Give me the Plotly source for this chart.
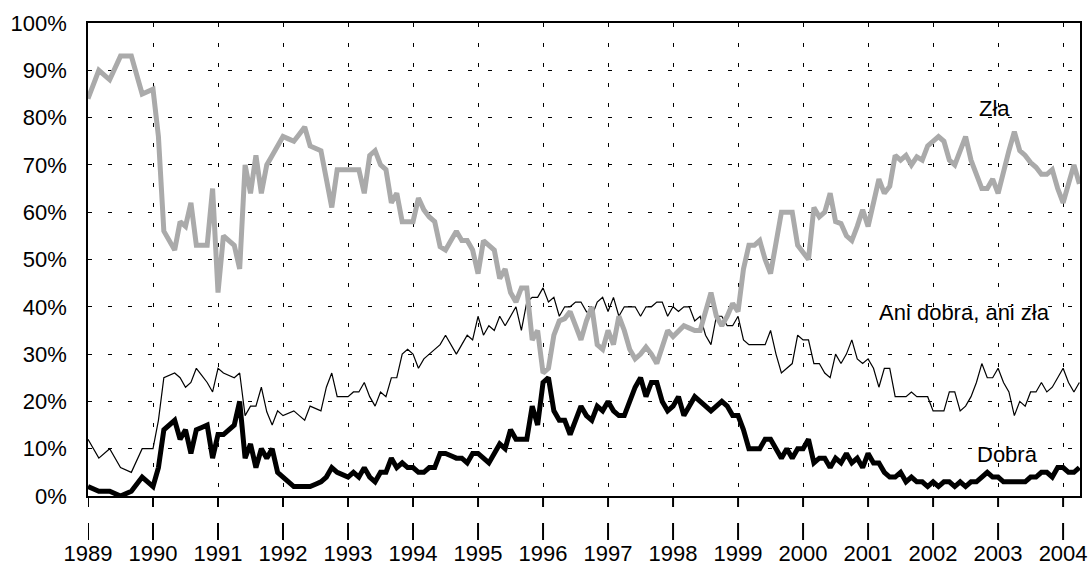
import plotly.graph_objects as go

# Sample times: 1989 bi-monthly (Jan, Mar, May, Jul, Sep, Nov), then monthly Jan 1990 - Apr 2004
months_1989 = [1, 3, 5, 7, 9, 11]
years_monthly = list(range(1990, 2004))
months_2004 = [1, 2, 3, 4]

x = [1989 + (m - 1) / 12 for m in months_1989]
for yr in years_monthly:
    x += [yr + (m - 1) / 12 for m in range(1, 13)]
x += [2004 + (m - 1) / 12 for m in months_2004]

zla = [
    84, 90, 88, 93, 93, 85,
    86, 76, 56, 54, 52, 58, 57, 62, 53, 53, 53, 65,
    43, 55, 54, 53, 48, 70, 64, 72, 64, 70, 72, 74,
    76, 75.5, 75, 76.5, 78, 74, 73.5, 73, 67, 61, 69, 69,
    69, 69, 69, 64, 72, 73, 70, 69, 62, 64, 58, 58,
    58, 63, 60.5, 59, 58, 52.7, 52, 54, 56, 54, 54, 52,
    47, 54, 53, 52, 46, 48, 43, 41, 44, 44, 33, 35,
    26, 27, 34, 37, 37.5, 39, 36, 33, 37, 40, 32, 31,
    35, 32, 38, 35, 31, 29, 30, 31.5, 30, 28, 31.5, 35,
    33.7, 35, 36, 35.5, 35, 35, 39, 43, 38, 36, 38, 40.7,
    39, 48, 53, 53, 54, 50, 47, 54, 60, 60, 60, 53,
    51.5, 50, 61, 59, 60, 64, 58, 57.6, 55, 54, 57, 60.5,
    57, 62, 67, 64, 65.5, 72, 71, 72, 70, 71.7, 71, 74,
    75, 76, 75, 71, 70, 73, 76, 71, 68, 65, 65, 67,
    64, 69, 73, 77, 73, 72, 70.5, 69.5, 68, 68, 69, 65,
    62, 66, 70, 66,
]

ani = [
    12, 8, 10, 6, 5, 10,
    10, 16, 25, 25.5, 26, 25, 23, 24, 27, 25.5, 24, 22,
    27, 26, 25.5, 25, 26, 17, 19, 19, 23, 17.8, 15, 18,
    17, 17.5, 18, 17, 16, 19, 18.5, 18, 23, 26, 21, 21,
    21, 22, 22, 24, 21, 19, 22, 21, 25, 25, 30, 31,
    30, 27, 29, 30, 31, 32, 34, 32, 30, 32, 34, 33,
    38, 34, 36, 35, 38, 36, 38, 40, 35, 41, 42, 42,
    44, 41, 42, 38, 40, 40, 41, 41, 39, 38, 41, 42,
    39, 42, 38, 40, 40, 40, 38, 40, 40, 41, 41, 38,
    40, 39, 40, 40, 37, 38, 34, 32, 38, 38, 36, 36,
    38, 33, 32, 32, 32, 32, 35, 30, 26, 27, 28, 34,
    33, 33, 28, 28, 26, 25, 30, 28, 30, 33, 29, 28,
    29, 27, 23, 27, 27, 21, 21, 21, 22, 21, 21, 21,
    18, 18, 18, 22, 22, 18, 19, 21, 24, 28, 25, 25,
    27, 24, 22, 17, 20, 19, 22, 22, 24, 22, 23, 25,
    27, 24, 22, 24,
]

dobra = [
    2, 1, 1, 0, 1, 4,
    2, 6, 14, 15, 16, 12, 14, 9, 14, 14.5, 15, 8,
    13, 13, 14, 15, 20, 8, 11, 6, 10, 8, 10, 5,
    4, 3, 2, 2, 2, 2, 2.5, 3, 4, 6, 5, 4.5,
    4, 5, 4, 6, 4, 3, 5, 5, 8, 6, 7, 6,
    6, 5, 5, 6, 6, 9, 9, 8.5, 8, 8, 7, 9,
    9, 8, 7, 9, 11, 10, 14, 12, 12, 12, 19, 15,
    24, 25, 18, 16, 16, 13, 16, 19, 17, 16, 19, 18,
    20, 18, 17, 17, 20, 23, 25, 21, 24, 24, 20, 18,
    19, 21, 17, 19, 21, 20, 19, 18, 19, 20, 19, 17,
    17, 14, 10, 10, 10, 12, 12, 10, 8, 10, 8, 10,
    10, 12, 7, 8, 8, 6, 8, 7, 9, 7, 8, 6,
    9, 7, 7, 5, 4, 4, 5, 3, 4, 3, 3, 2,
    3, 2, 3, 3, 2, 3, 2, 3, 3, 4, 5, 4,
    4, 3, 3, 3, 3, 3, 4, 4, 5, 5, 4, 6,
    6, 5, 5, 6,
]

year_ticks = list(range(1989, 2005))
y_ticks = list(range(0, 101, 10))
y_labels = [f"{v}%" for v in y_ticks]

labels = {"zla": "Zła", "ani": "Ani dobra, ani zła", "dobra": "Dobra"}

fig = go.Figure()
fig.add_trace(go.Scatter(x=x, y=ani, mode="lines", name=labels["ani"],
                         line=dict(color="black", width=1.2)))
fig.add_trace(go.Scatter(x=x, y=zla, mode="lines", name=labels["zla"],
                         line=dict(color="#aaaaaa", width=5)))
fig.add_trace(go.Scatter(x=x, y=dobra, mode="lines", name=labels["dobra"],
                         line=dict(color="black", width=5)))

fam = "Liberation Sans, Arial, sans-serif"
tick_font = dict(family=fam, size=22, color="black")
ann_font = dict(family=fam, size=22, color="black")

# tick marks below the x axis, drawn as two short segments per year
plot_h = 567 - 23 - 71
shapes = []
for yr in year_ticks:
    for (y0px, y1px) in [(1, 11), (27, 44)]:
        shapes.append(dict(type="line", xref="x", yref="paper",
                           x0=yr, x1=yr, y0=-y0px / plot_h, y1=-y1px / plot_h,
                           line=dict(color="black", width=2)))

fig.update_layout(
    width=1090, height=567,
    margin=dict(l=88, r=10, t=23, b=71),
    paper_bgcolor="white", plot_bgcolor="white",
    showlegend=False,
    font=tick_font,
    shapes=shapes,
    xaxis=dict(
        range=[1989, 2004.26], automargin=False,
        tickmode="array", tickvals=year_ticks, ticktext=[str(v) for v in year_ticks],
        showgrid=True, gridcolor="black", gridwidth=1, griddash="4px,16px",
        showline=True, linecolor="black", linewidth=1.5, mirror=True,
        ticks="outside", ticklen=37, tickwidth=1, tickcolor="rgba(0,0,0,0)",
        zeroline=False, tickfont=tick_font,
    ),
    yaxis=dict(
        range=[0, 100], automargin=False,
        tickmode="array", tickvals=y_ticks, ticktext=y_labels,
        showgrid=True, gridcolor="black", gridwidth=1, griddash="4px,16px",
        showline=True, linecolor="black", linewidth=1.5, mirror=True,
        ticks="", zeroline=False, tickfont=tick_font, ticklabelstandoff=15,
    ),
    annotations=[
        dict(x=2002.95, y=82, text=labels["zla"], showarrow=False, font=ann_font),
        dict(x=2002.49, y=38.7, text=labels["ani"], showarrow=False, font=ann_font),
        dict(x=2003.15, y=8.7, text=labels["dobra"], showarrow=False, font=ann_font),
    ],
)

fig.write_html("out.html",
               config={"displayModeBar": False},
               post_script="document.body.style.margin='0';document.body.style.padding='0';")
